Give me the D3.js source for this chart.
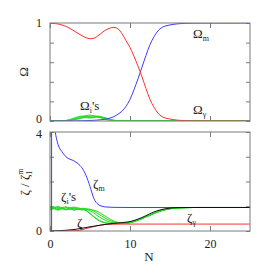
<!DOCTYPE html>
<html>
<head>
<meta charset="utf-8">
<script src="https://cdn.jsdelivr.net/npm/d3@7"></script>
<style>
  body { margin: 0; background: #fff; }
  text { font-family: "Liberation Serif", "DejaVu Serif", serif; fill: #222; }
</style>
</head>
<body>
<div id="vis"></div>
<script>
// top panel: density parameters vs N
const omegaGamma = [[0,1],[1,0.99],[2,0.965],[3,0.92],[4,0.87],[5,0.84],[5.5,0.845],[6,0.87],[7,0.93],[8,0.955],[8.5,0.94],[9,0.89],[9.5,0.82],[10,0.75],[10.5,0.66],[11,0.56],[11.5,0.45],[12,0.33],[12.5,0.22],[13,0.14],[13.5,0.08],[14,0.045],[15,0.02],[16,0.008],[17,0.003],[18,0.001],[25,0]];
const omegaM = [[0,0],[3,0.001],[5,0.005],[6,0.01],[7,0.02],[7.5,0.03],[8,0.045],[8.5,0.07],[9,0.1],[9.5,0.15],[10,0.22],[10.5,0.32],[11,0.43],[11.5,0.55],[12,0.67],[12.5,0.78],[13,0.86],[13.5,0.92],[14,0.955],[15,0.98],[16,0.992],[17,0.997],[18,0.999],[25,1]];
const omegaI = [
  [[0,0],[1,0.001],[2,0.004],[2.5,0.01],[3,0.02],[3.5,0.035],[4,0.045],[4.5,0.055],[5,0.06],[5.5,0.052],[6,0.04],[6.5,0.028],[7,0.015],[7.5,0.007],[8,0.003],[9,0.001],[25,0]],
  [[0,0],[1,0.001],[2,0.006],[2.5,0.015],[3,0.03],[3.5,0.042],[4,0.05],[4.5,0.045],[5,0.035],[5.5,0.04],[6,0.045],[6.5,0.035],[7,0.02],[7.5,0.01],[8,0.004],[9,0.001],[25,0]],
  [[0,0],[1.5,0.002],[2.5,0.01],[3,0.018],[3.5,0.028],[4,0.035],[4.5,0.04],[5,0.048],[5.5,0.05],[6,0.05],[6.5,0.042],[7,0.03],[7.5,0.015],[8,0.006],[9,0.001],[25,0]],
  [[0,0],[2,0.003],[3,0.012],[3.5,0.02],[4,0.03],[4.5,0.035],[5,0.03],[5.5,0.035],[6,0.04],[6.5,0.038],[7,0.028],[7.5,0.018],[8,0.008],[9,0.002],[25,0]]
];

// bottom panel: curvature perturbations / zeta_1^m
const zetaM = [[0.55,4.2],[0.8,3.75],[1,3.5],[1.5,3.2],[2,3.0],[3,2.83],[3.5,2.72],[4,2.55],[4.5,2.25],[5,1.8],[5.5,1.3],[6,1.08],[6.5,1.0],[7,0.97],[8,0.955],[10,0.95],[25,0.95]];
const zetaMSpike = [[0,0],[0.2,0],[0.2,5]];
const zetaGamma = [[0,0],[2,0.003],[3,0.01],[3.5,0.02],[4,0.05],[4.5,0.1],[5,0.14],[5.5,0.18],[6,0.22],[6.5,0.25],[7,0.265],[8,0.275],[9,0.28],[25,0.28]];
const zetaTotal = [[0,0],[1,0.01],[2,0.03],[3,0.06],[4,0.11],[5,0.17],[6,0.22],[7,0.27],[8,0.31],[9,0.34],[10,0.38],[11,0.48],[12,0.62],[12.5,0.7],[13,0.77],[14,0.87],[15,0.925],[16,0.945],[18,0.95],[25,0.95]];
const zetaTail = [[10,0.34],[11,0.44],[12,0.57],[12.5,0.64],[13,0.71],[14,0.83],[15,0.9],[16,0.935],[17,0.945],[18,0.95],[25,0.95]];
const zetaI = [
  [[0,0.92],[0.5,0.97],[1,0.9],[1.5,0.95],[2,0.88],[2.5,0.94],[3,0.9],[3.5,0.93],[4,0.89],[4.5,0.84],[5,0.72],[5.5,0.58],[6,0.46],[6.5,0.38],[7,0.33],[7.5,0.31],[8,0.3],[9,0.31]],
  [[0,0.88],[0.5,0.93],[1,0.86],[1.5,0.92],[2,0.87],[2.5,0.9],[3,0.85],[3.5,0.9],[4,0.87],[4.5,0.88],[5,0.82],[5.5,0.72],[6,0.6],[6.5,0.5],[7,0.42],[7.5,0.36],[8,0.32],[8.5,0.3],[9,0.3]],
  [[0,0.95],[0.5,0.9],[1,0.96],[1.5,0.89],[2,0.95],[2.5,0.88],[3,0.94],[3.5,0.87],[4,0.92],[4.5,0.9],[5,0.88],[5.5,0.8],[6,0.7],[6.5,0.6],[7,0.5],[7.5,0.42],[8,0.36],[8.5,0.32],[9,0.3]],
  [[0,0.85],[0.5,0.9],[1,0.84],[1.5,0.9],[2,0.85],[2.5,0.89],[3,0.84],[3.5,0.88],[4,0.85],[4.5,0.86],[5,0.86],[5.5,0.84],[6,0.78],[6.5,0.68],[7,0.58],[7.5,0.48],[8,0.4],[8.5,0.34],[9,0.31]],
  [[0,1.0],[0.5,0.95],[1,0.99],[1.5,0.94],[2,0.98],[2.5,0.93],[3,0.97],[3.5,0.92],[4,0.9],[4.5,0.82],[5,0.7],[5.5,0.56],[6,0.44],[6.5,0.36],[7,0.32],[7.5,0.3],[8,0.3],[9,0.31]]
];

const xTicks = [0, 10, 20];
const topTicks = [0, 0.2, 0.4, 0.6, 0.8, 1];
const bottomTicks = [0, 1, 2, 3, 4];

const red = "#ff3030", blue = "#3c3cff", green = "#22dd22", frame = "#7a7a7a";

const svg = d3.select("#vis").append("svg")
  .attr("width", 273).attr("height", 273);

const x = d3.scaleLinear().domain([0, 25]).range([50, 250]);
const yTop = d3.scaleLinear().domain([0, 1]).range([121, 23]);
const yBot = d3.scaleLinear().domain([0, 4]).range([231, 132]);

// clip each panel
const defs = svg.append("defs");
defs.append("clipPath").attr("id", "clipTop").append("rect")
  .attr("x", 50).attr("y", 23).attr("width", 200).attr("height", 98);
defs.append("clipPath").attr("id", "clipBot").append("rect")
  .attr("x", 50).attr("y", 132).attr("width", 200).attr("height", 99);

function panel(y, ticks, labelled, showX, nudge) {
  const g = svg.append("g");
  const fmt = d => labelled.includes(d) ? d : "";
  const left = g.append("g").attr("transform", "translate(50,0)")
    .call(d3.axisLeft(y).tickValues(ticks).tickSize(-4).tickPadding(8).tickFormat(fmt));
  // keep the stacked end labels (top "0", bottom "4") apart
  left.selectAll(".tick text").attr("y", d => nudge(d));
  g.append("g").attr("transform", "translate(250,0)")
    .call(d3.axisRight(y).tickValues(ticks).tickSize(-4).tickFormat(""));
  g.append("g").attr("transform", `translate(0,${y.range()[1]})`)
    .call(d3.axisTop(x).tickValues(xTicks).tickSize(-5).tickFormat(""));
  g.append("g").attr("transform", `translate(0,${y.range()[0]})`)
    .call(d3.axisBottom(x).tickValues(xTicks).tickSize(-5).tickPadding(8)
      .tickFormat(showX ? d3.format("d") : ""));
  g.selectAll(".domain").remove();
  g.selectAll(".tick line").attr("stroke", frame);
  g.selectAll(".tick text").attr("font-size", 12).attr("fill", "#222")
    .attr("font-family", "Liberation Serif, serif");
  return g;
}

panel(yTop, topTicks, [0, 1], false, d => d === 0 ? -2 : 0);
panel(yBot, bottomTicks, [0, 4], true, d => d === 4 ? 2 : 0);

function draw(clip, y, data, color, curve) {
  svg.append("path")
    .attr("clip-path", `url(#${clip})`)
    .attr("d", d3.line().x(d => x(d[0])).y(d => y(d[1])).curve(curve || d3.curveMonotoneX)(data))
    .attr("fill", "none").attr("stroke", color).attr("stroke-width", 1);
}

// top curves
omegaI.forEach(s => draw("clipTop", yTop, s, green, d3.curveMonotoneX));
draw("clipTop", yTop, omegaM, blue);
draw("clipTop", yTop, omegaGamma, red);

// bottom curves
zetaI.forEach(s => draw("clipBot", yBot, s.concat(zetaTail), green));
draw("clipBot", yBot, zetaM, blue);
draw("clipBot", yBot, zetaMSpike, blue, d3.curveLinear);
draw("clipBot", yBot, zetaGamma, red);
draw("clipBot", yBot, zetaTotal, "#111");

// frames
[[23, 98], [132, 99]].forEach(([top, h]) => {
  svg.append("rect").attr("x", 50).attr("y", top).attr("width", 200).attr("height", h)
    .attr("fill", "none").attr("stroke", frame).attr("stroke-width", 1);
});

// labels
function label(px, py, base, sub, extra) {
  const t = svg.append("text").attr("x", px).attr("y", py).attr("font-size", 13);
  t.append("tspan").text(base);
  if (sub) t.append("tspan").attr("font-size", 8).attr("dy", 3).text(sub);
  if (extra) t.append("tspan").attr("dy", sub ? -3 : 0).text(extra);
  return t;
}
label(193, 38, "Ω", "m");
label(193, 114, "Ω", "γ");
label(80, 110, "Ω", "i", "'s");
label(93, 188, "ζ", "m");
label(61, 201, "ζ", "i", "'s");
label(77, 227, "ζ");
label(187, 222, "ζ", "γ");

svg.append("text").attr("x", 149).attr("y", 261).attr("text-anchor", "middle")
  .attr("font-size", 13).text("N");

svg.append("text").attr("transform", "translate(28,72) rotate(-90)")
  .attr("text-anchor", "middle").attr("font-size", 13).text("Ω");

const yl = svg.append("text").attr("transform", "translate(29,182) rotate(-90)")
  .attr("text-anchor", "middle").attr("font-size", 13);
yl.append("tspan").text("ζ / ζ");
yl.append("tspan").attr("font-size", 8).attr("dy", 3).text("1");
yl.append("tspan").attr("font-size", 8).attr("dx", -4).attr("dy", -9).text("m");
</script>
</body>
</html>
